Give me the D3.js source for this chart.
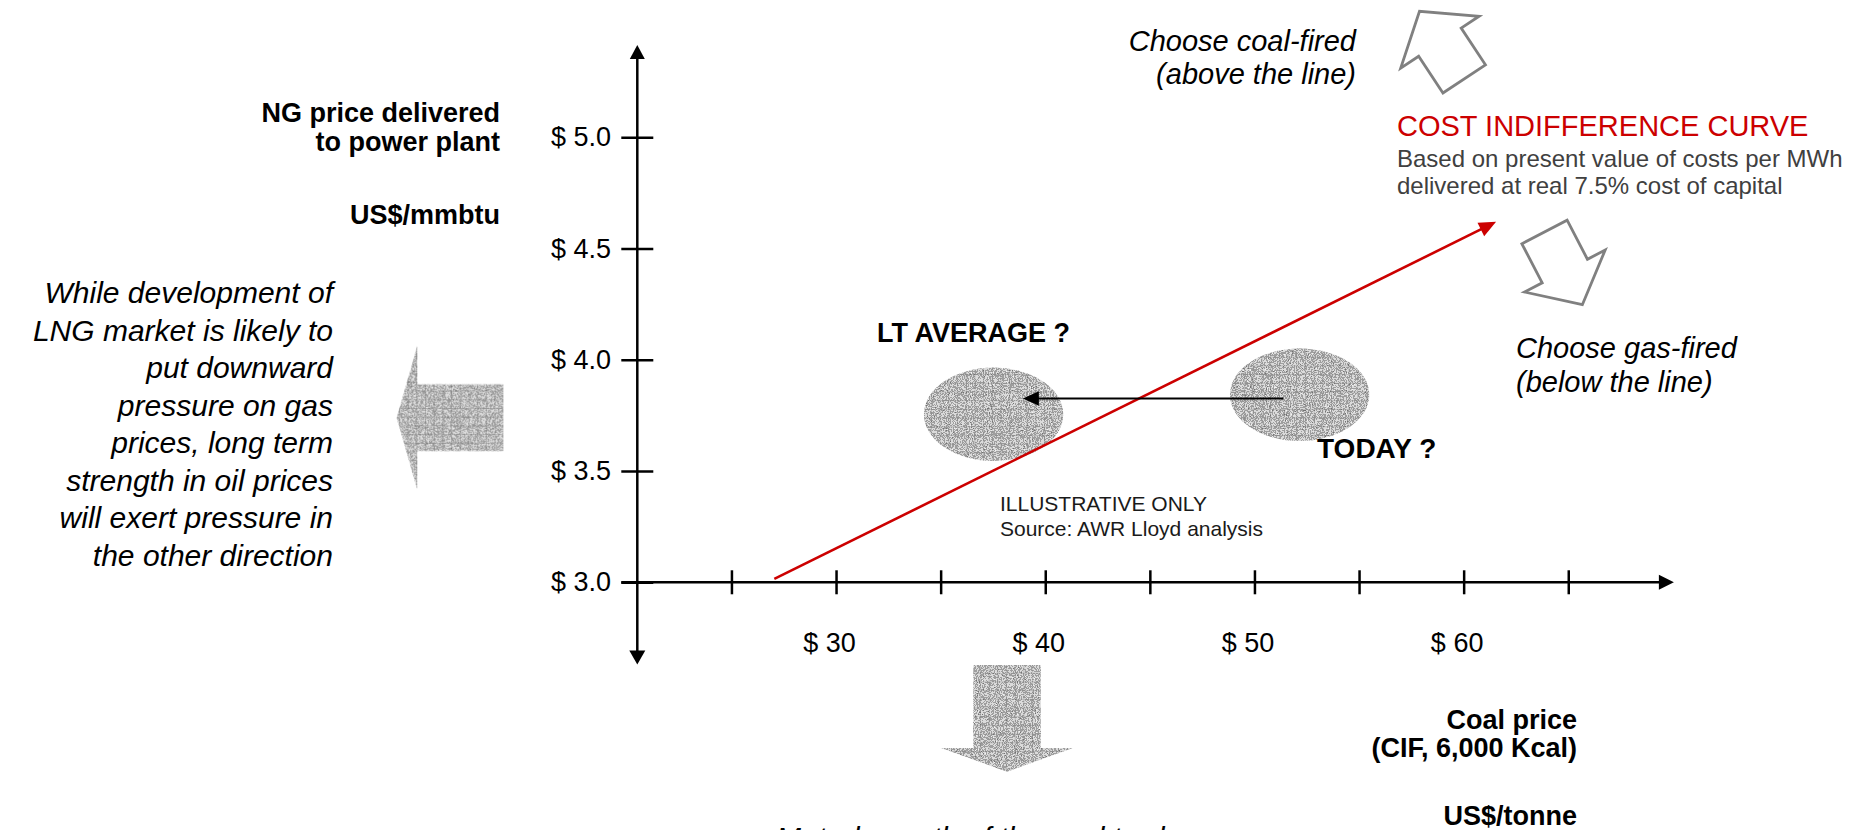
<!DOCTYPE html>
<html>
<head>
<meta charset="utf-8">
<script src="https://cdn.jsdelivr.net/npm/d3@7"></script>
<style>
  html, body { margin: 0; padding: 0; background: #fff; overflow: hidden; }
  svg { display: block; }
  text { font-family: "Liberation Sans", Arial, Helvetica, sans-serif; }
</style>
</head>
<body>
<svg id="chart" width="1861" height="830"></svg>
<script>
// Gas price ticks (US$/mmbtu) and coal price ticks (US$/tonne)
const gasTicks = [3.0, 3.5, 4.0, 4.5, 5.0];
const coalTicks = [25, 30, 35, 40, 45, 50, 55, 60, 65];
const coalTickLabels = [30, 40, 50, 60];

// Cost indifference line: coal price against the gas price of equal cost per MWh
const indifferenceCoal = [27.05, 61.55];
const indifferenceGas = [3.015, 4.62];

// Price scenarios: centre and spread of each cloud
const scenarioNames = ["LT AVERAGE ?", "TODAY ?"];
const scenarioCoal = [37.53, 52.16];
const scenarioGas = [3.755, 3.843];
const scenarioCoalSpread = [3.33, 3.33];
const scenarioGasSpread = [0.21, 0.208];

// Expected move of the coal price from today towards the long-term average
const shiftCoal = [51.38, 38.93];
const shiftGas = [3.826, 3.826];

// Text blocks
const gasAxisTitle = ["NG price delivered", "to power plant"];
const gasAxisUnit = "US$/mmbtu";
const coalAxisTitle = ["Coal price", "(CIF, 6,000 Kcal)"];
const coalAxisUnit = "US$/tonne";
const lngNote = ["While development of", "LNG market is likely to", "put downward",
  "pressure on gas", "prices, long term", "strength in oil prices",
  "will exert pressure in", "the other direction"];
const coalNote = "Muted growth of the coal trade";
const aboveNote = ["Choose coal-fired", "(above the line)"];
const belowNote = ["Choose gas-fired", "(below the line)"];
const curveTitle = "COST INDIFFERENCE CURVE";
const curveNote = ["Based on present value of costs per MWh", "delivered at real 7.5% cost of capital"];
const sourceNote = ["ILLUSTRATIVE ONLY", "Source: AWR Lloyd analysis"];

const svg = d3.select("#chart");
const defs = svg.append("defs");

// Speckled grey fill used for the price clouds and pressure arrows
const grain = defs.append("filter").attr("id", "grain")
  .attr("x", 0).attr("y", 0).attr("width", 1).attr("height", 1)
  .attr("color-interpolation-filters", "sRGB");
grain.append("feTurbulence").attr("type", "fractalNoise").attr("baseFrequency", 0.95)
  .attr("numOctaves", 2).attr("seed", 4).attr("result", "noise");
grain.append("feColorMatrix").attr("in", "noise").attr("type", "matrix")
  .attr("values", "1 0 0 0 0  1 0 0 0 0  1 0 0 0 0  0 0 0 0 1").attr("result", "mono");
const ct = grain.append("feComponentTransfer").attr("in", "mono").attr("result", "speck");
["feFuncR", "feFuncG", "feFuncB"].forEach(f =>
  ct.append(f).attr("type", "discrete").attr("tableValues", "0.45 0.62 0.86 0.96"));
grain.append("feComposite").attr("in", "speck").attr("in2", "SourceAlpha").attr("operator", "in");

const weave = defs.append("pattern").attr("id", "weave")
  .attr("patternUnits", "userSpaceOnUse").attr("width", 8.7).attr("height", 8.7);
weave.append("path").attr("d", "M0,0.5H8.7M0.5,0V8.7")
  .attr("stroke", "#6e6e6e").attr("stroke-opacity", 0.35).attr("stroke-width", 1).attr("fill", "none");

// Scales: coal price horizontally, delivered gas price vertically
const x = d3.scaleLinear().domain([20.5, 70.05]).range([637.3, 1673.9]);
const y = d3.scaleLinear().domain([2.63, 5.415]).range([664.6, 45]);
const axisX = x(20.5);
const axisY = y(3.0);

function arrowHead(sel, tipX, tipY, angleDeg, len, half, fill) {
  const a = angleDeg * Math.PI / 180;
  const ux = Math.cos(a), uy = Math.sin(a);
  const bx = tipX - ux * len, by = tipY - uy * len;
  const pts = [[tipX, tipY], [bx - uy * half, by + ux * half], [bx + uy * half, by - ux * half]];
  sel.append("polygon").attr("points", pts.map(p => p.join(",")).join(" ")).attr("fill", fill);
}

// Block arrow outline pointing "up" from the middle of its tail
function blockArrow(shaftW, shaftL, headW, headL) {
  const s = shaftW / 2, h = headW / 2;
  return `M${-s},0 L${-s},${-shaftL} L${-h},${-shaftL} L0,${-shaftL - headL} L${h},${-shaftL} L${s},${-shaftL} L${s},0 Z`;
}

function textured(g, draw) {
  draw(g.append("g")).attr("fill", "#999").attr("filter", "url(#grain)");
  draw(g.append("g")).attr("fill", "url(#weave)");
}

function lines(arr, xPos, yPos, step, anchor, style) {
  const t = svg.append("g");
  arr.forEach((s, i) => {
    const el = t.append("text").attr("x", xPos).attr("y", yPos + i * step)
      .attr("text-anchor", anchor).text(s);
    Object.entries(style).forEach(([k, v]) => el.style(k, v));
  });
  return t;
}

// Price clouds
const clouds = svg.append("g");
scenarioCoal.forEach((c, i) => {
  textured(clouds, g => g.append("ellipse")
    .attr("cx", x(c)).attr("cy", y(scenarioGas[i]))
    .attr("rx", x(c + scenarioCoalSpread[i]) - x(c))
    .attr("ry", y(scenarioGas[i]) - y(scenarioGas[i] + scenarioGasSpread[i])));
});

// Pressure arrows: gas price downward (left) and coal price (bottom)
textured(svg.append("g"), g => g.append("path")
  .attr("d", blockArrow(66.7, 86, 143.3, 20.6))
  .attr("transform", "translate(503.3,417.7) rotate(-90)"));
textured(svg.append("g"), g => g.append("path")
  .attr("d", blockArrow(67.4, 83, 131.7, 23.7))
  .attr("transform", "translate(1007,665) rotate(180)"));

// Axes
const yAxis = d3.axisLeft(y).tickValues(gasTicks).tickSize(16).tickSizeOuter(0)
  .tickPadding(10.3).tickFormat(d => "$ " + d.toFixed(1));
const gy = svg.append("g").attr("transform", `translate(${axisX},0)`).call(yAxis);
gy.select(".domain").remove();
gy.selectAll(".tick line").attr("x1", -16).attr("x2", 16).attr("stroke", "#000").attr("stroke-width", 2.5);
gy.selectAll(".tick text").attr("fill", "#000").style("font-size", "27px")
  .style("font-family", '"Liberation Sans", Arial, sans-serif');

const xAxis = d3.axisBottom(x).tickValues(coalTicks).tickSize(12).tickSizeOuter(0)
  .tickFormat(d => coalTickLabels.includes(d) ? "$ " + d : "");
const gx = svg.append("g").attr("transform", `translate(0,${axisY})`).call(xAxis);
gx.select(".domain").remove();
gx.selectAll(".tick line").attr("y1", -12).attr("y2", 12).attr("stroke", "#000").attr("stroke-width", 2.5);
gx.selectAll(".tick text").attr("fill", "#000").attr("y", 69.4).attr("dy", 0).attr("dx", -7)
  .style("font-size", "27px").style("font-family", '"Liberation Sans", Arial, sans-serif');

const axes = svg.append("g");
axes.append("line").attr("x1", axisX).attr("x2", axisX)
  .attr("y1", y(5.415) + 12).attr("y2", y(2.63) - 12)
  .attr("stroke", "#000").attr("stroke-width", 2.5);
axes.append("line").attr("x1", axisX - 16).attr("x2", x(70.05) - 12)
  .attr("y1", axisY).attr("y2", axisY)
  .attr("stroke", "#000").attr("stroke-width", 2.5);
arrowHead(axes, axisX, y(5.415), -90, 14, 7.5, "#000");
arrowHead(axes, axisX, y(2.63), 90, 14, 8, "#000");
arrowHead(axes, x(70.05), axisY, 0, 15, 7.5, "#000");

// Cost indifference line
const red = "#cc0000";
const rx0 = x(indifferenceCoal[0]), ry0 = y(indifferenceGas[0]);
const rx1 = x(indifferenceCoal[1]), ry1 = y(indifferenceGas[1]);
const rAng = Math.atan2(ry1 - ry0, rx1 - rx0) * 180 / Math.PI;
const rLen = Math.hypot(rx1 - rx0, ry1 - ry0);
svg.append("line").attr("x1", rx0).attr("y1", ry0)
  .attr("x2", rx0 + (rx1 - rx0) * (rLen - 12) / rLen)
  .attr("y2", ry0 + (ry1 - ry0) * (rLen - 12) / rLen)
  .attr("stroke", red).attr("stroke-width", 2.6);
arrowHead(svg, rx1, ry1, rAng, 17, 7.5, red);

// Shift of the coal price
const sx0 = x(shiftCoal[0]), sx1 = x(shiftCoal[1]), sy = y(shiftGas[0]);
svg.append("line").attr("x1", sx0).attr("x2", sx1 + 12).attr("y1", sy).attr("y2", sy)
  .attr("stroke", "#000").attr("stroke-width", 2.2);
arrowHead(svg, sx1, y(shiftGas[1]), 180, 16, 7.2, "#000");

// Hollow arrows marking either side of the curve
const hollow = svg.append("g").attr("fill", "#fff").attr("stroke", "#808080")
  .attr("stroke-width", 2.8).attr("stroke-linejoin", "miter");
hollow.append("path").attr("d", blockArrow(51, 44, 94, 37))
  .attr("transform", "translate(1464.2,78.9) rotate(-33.5)");
hollow.append("path").attr("d", blockArrow(51, 44, 91, 38))
  .attr("transform", "translate(1544.5,232) rotate(152.5)");

// Labels
const bold = { "font-size": "27px", "font-weight": "bold", fill: "#000" };
const italic = { "font-size": "29px", "font-style": "italic", fill: "#000" };

lines(gasAxisTitle, 500, 121.7, 29, "end", bold);
lines([gasAxisUnit], 500, 224, 0, "end", bold);
lines(lngNote, 333, 303.3, 37.5, "end", { "font-size": "30px", "font-style": "italic", fill: "#000" });

lines(aboveNote, 1356, 51, 33.3, "end", italic);
lines(belowNote, 1516, 358.3, 33.4, "start", italic);
lines([curveTitle], 1397, 136, 0, "start", { "font-size": "29px", fill: red });
lines(curveNote, 1397, 166.7, 27.6, "start", { "font-size": "24px", fill: "#404040" });

lines([scenarioNames[0]], 1070, 342, 0, "end", bold);
lines([scenarioNames[1]], 1317, 457.7, 0, "start", { "font-size": "28px", "font-weight": "bold", fill: "#000" });
lines(sourceNote, 1000, 511, 24.7, "start", { "font-size": "21px", fill: "#1a1a1a" });

const axisTitle = { "font-size": "27px", "font-weight": "bold", fill: "#000" };
lines(coalAxisTitle, 1577, 729, 28, "end", axisTitle);
lines([coalAxisUnit], 1577, 825, 0, "end", axisTitle);
lines([coalNote], 776, 848, 0, "start", { "font-size": "30px", "font-style": "italic", fill: "#000" });
</script>
</body>
</html>
